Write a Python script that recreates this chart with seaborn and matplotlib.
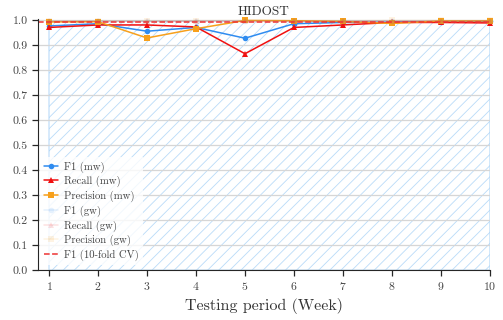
import matplotlib
matplotlib.use("Agg")
import matplotlib.pyplot as plt
import seaborn as sns
import pandas as pd

weeks = [1, 2, 3, 4, 5, 6, 7, 8, 9, 10]
f1_mw = [0.976, 0.985, 0.955, 0.970, 0.927, 0.985, 0.990, 0.991, 0.993, 0.994]
recall_mw = [0.970, 0.980, 0.980, 0.972, 0.865, 0.970, 0.980, 0.990, 0.990, 0.988]
precision_mw = [0.992, 0.993, 0.928, 0.965, 0.998, 0.997, 0.994, 0.986, 0.996, 0.996]
f1_gw = [0.995, 0.996, 0.995, 0.996, 0.997, 0.996, 0.996, 0.997, 0.997, 0.997]
recall_gw = [0.994, 0.995, 0.994, 0.995, 0.996, 0.995, 0.995, 0.996, 0.996, 0.996]
precision_gw = [0.996, 0.997, 0.996, 0.997, 0.998, 0.997, 0.997, 0.998, 0.998, 0.998]
f1_cv = 0.990

sns.set_style("ticks")
plt.rcParams['font.family'] = ['serif']
plt.rcParams['font.serif'] = ['cmr10', 'DejaVu Serif']
plt.rcParams['axes.formatter.use_mathtext'] = True
plt.rcParams['hatch.linewidth'] = 0.6

fig = plt.figure(figsize=(5.03, 3.2), dpi=100)
ax = fig.add_axes([0.0755, 0.156, 0.8985, 0.784])

ax.fill_between(weeks, 0, f1_gw, facecolor='none', edgecolor='#a8d2f7',
                hatch='///', linewidth=0.8, alpha=0.8, zorder=0.3)

df = pd.DataFrame({'week': weeks, 'f1_mw': f1_mw, 'recall_mw': recall_mw,
                   'precision_mw': precision_mw, 'f1_gw': f1_gw,
                   'recall_gw': recall_gw, 'precision_gw': precision_gw})

series = [
    ('f1_mw', 'F1 (mw)', '#2f8cf0', 'o', 1.0),
    ('recall_mw', 'Recall (mw)', '#f01010', '^', 1.0),
    ('precision_mw', 'Precision (mw)', '#f7a01c', 's', 1.0),
    ('f1_gw', 'F1 (gw)', '#2f8cf0', 'o', 0.12),
    ('recall_gw', 'Recall (gw)', '#f01010', '^', 0.12),
    ('precision_gw', 'Precision (gw)', '#f7a01c', 's', 0.12),
]
for col, label, color, marker, alpha in series:
    sns.lineplot(data=df, x='week', y=col, ax=ax, label=label, color=color,
                 marker=marker, markersize=4, markeredgewidth=0, linewidth=1.1,
                 alpha=alpha, clip_on=False)

ax.axhline(f1_cv, color='#ee3333', linestyle='--', linewidth=1.1, label='F1 (10-fold CV)')

ax.set_xlim(0.775, 10)
ax.set_ylim(0, 1.003)
ax.set_xticks(weeks)
ax.set_yticks([i / 10 for i in range(11)])
ax.set_yticklabels([f"{i / 10:.1f}" for i in range(11)])
ax.yaxis.grid(True, color='#d6d6d6', linewidth=0.9, zorder=0.5)
ax.set_axisbelow(True)
sns.despine(ax=ax)
ax.tick_params(labelsize=8.5, labelcolor='#444444', length=4, width=0.9)
ax.set_xlabel('Testing period (Week)', fontsize=11.5, color='#333333')
ax.set_ylabel('')
ax.set_title('HIDOST', fontsize=9.5, color='#333333', pad=3)

leg = ax.legend(loc='lower left', fontsize=7.7, frameon=True, framealpha=0.8,
                edgecolor='none', fancybox=False, handlelength=1.3,
                handletextpad=0.5, borderaxespad=0.2, labelspacing=0.32,
                bbox_to_anchor=(0.0, 0.01))
for t in leg.get_texts():
    t.set_color('#444444')

fig.savefig('out.png', dpi=100)
